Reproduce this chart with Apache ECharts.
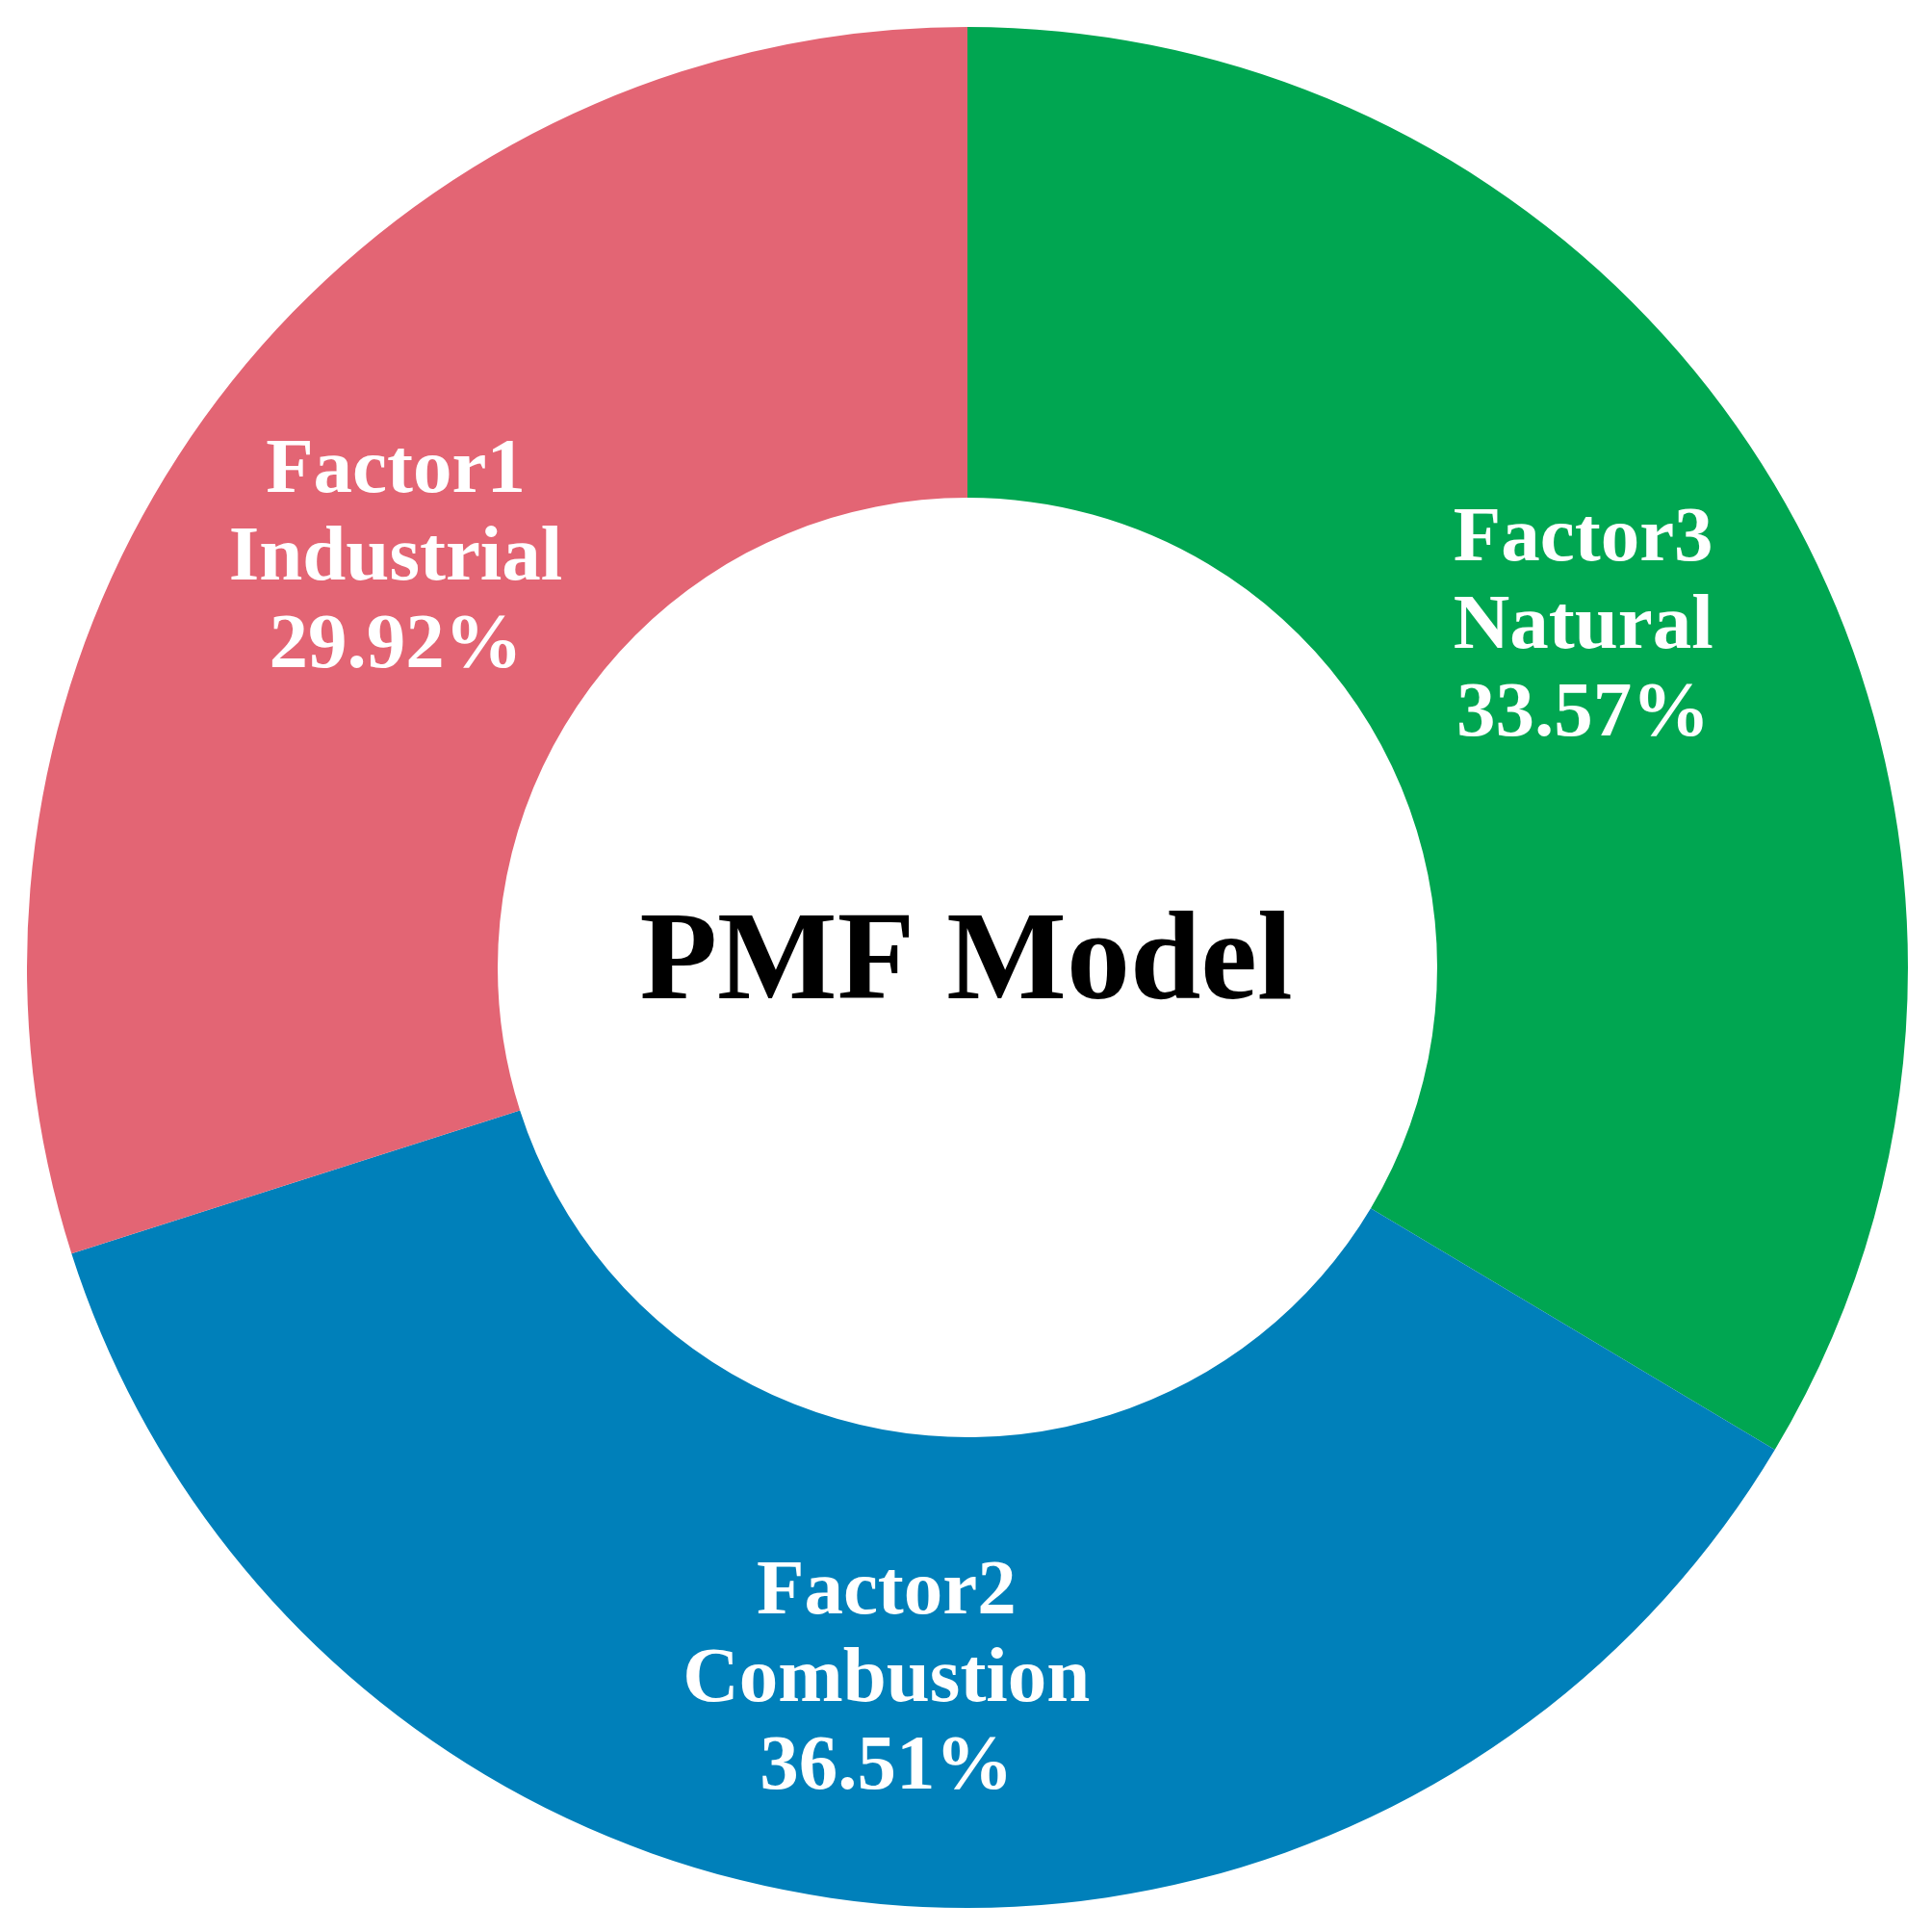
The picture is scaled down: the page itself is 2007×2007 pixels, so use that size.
<!DOCTYPE html>
<html>
<head>
<meta charset="utf-8">
<script src="https://cdn.jsdelivr.net/npm/echarts@6/dist/echarts.min.js"></script>
<style>
html,body{margin:0;padding:0;background:#fff;}
#chart{width:2007px;height:2007px;}
</style>
</head>
<body>
<div id="chart"></div>
<script>
const factors = ['Factor3', 'Factor2', 'Factor1'];
const sources = ['Natural', 'Combustion', 'Industrial'];
const shares = [33.57, 36.51, 29.92];
const colors = ['#00A651', '#0080BA', '#E36574'];
const centerTitle = 'PMF Model';

const chart = echarts.init(document.getElementById('chart'));
const data = factors.map((f, i) => ({
  name: f,
  value: shares[i],
  source: sources[i],
  itemStyle: { color: colors[i] }
}));

chart.setOption({
  animation: false,
  backgroundColor: '#ffffff',
  graphic: [{
    type: 'text',
    left: 'center',
    top: 937,
    style: {
      text: centerTitle,
      font: 'bold 132px "Liberation Serif", "Times New Roman", serif',
      fill: '#000000'
    }
  }],
  series: [{
    type: 'pie',
    center: [1005, 1005],
    radius: [488, 977],
    startAngle: 90,
    clockwise: true,
    silent: true,
    avoidLabelOverlap: false,
    itemStyle: { borderWidth: 0 },
    label: {
      show: true,
      position: 'inside',
      offset: [0, 10],
      color: '#ffffff',
      fontFamily: '"Liberation Serif", "Times New Roman", serif',
      fontWeight: 'bold',
      fontSize: 81,
      lineHeight: 91,
      align: 'center',
      formatter: function (p) {
        return p.name + '\n' + p.data.source + '\n' + p.value.toFixed(2) + '%';
      }
    },
    labelLine: { show: false },
    data: data
  }]
});
</script>
</body>
</html>
